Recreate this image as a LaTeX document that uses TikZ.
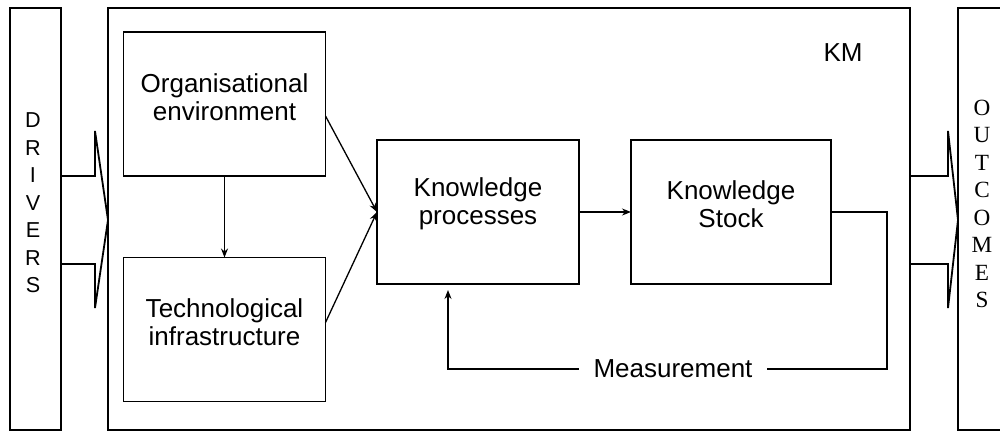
\documentclass[tikz,border=0pt]{standalone}
\usepackage{fontspec}
\setmainfont{Liberation Sans}
\newfontfamily\stackserif{Liberation Serif}
\usetikzlibrary{arrows.meta,calc}

\begin{document}
\begin{tikzpicture}[x=0.5pt,y=-0.5pt,
  line width=0.75pt,
  every node/.style={inner sep=0pt, outer sep=0pt},
  panel/.style={draw, rectangle, minimum height=211pt},
  procbox/.style={draw, rectangle, minimum width=101pt, minimum height=72pt},
  boxtext/.style={align=center, font=\fontsize{13}{14}\selectfont},
  link/.style={-{Stealth[length=4.5pt,width=3.5pt]}, line width=0.65pt},
  blockarrow/.style={line width=0.9pt, line join=miter},
]
\useasboundingbox (0,0) rectangle (1000,433);

% outer panels
\node[panel, minimum width=25.5pt] (drivers) at (35.5,219) {};
\node[panel, minimum width=401pt] (km) at (509,219) {};
\node[panel, minimum width=24pt] (outcomes) at (982,219) {};

\node[align=center, font=\fontsize{10.8}{13.75}\selectfont] (drvtxt) at (33,203)
  {D\\R\\I\\V\\E\\R\\S};
\node[align=center, font=\stackserif\fontsize{11.6}{13.75}\selectfont] (outtxt) at (982,204)
  {O\\U\\T\\C\\O\\M\\E\\S};
\node[font=\fontsize{13}{14}\selectfont] (kmlabel) at (843,53) {KM};

% block arrows into and out of the KM panel
\draw[blockarrow] (drivers.east |- 0,176) -- (95,176) -- (95,131)
  -- (km.west |- 0,220) -- (95,308) -- (95,264) -- (drivers.east |- 0,264);
\draw[blockarrow] (km.east |- 0,176) -- (948,176) -- (948,131)
  -- (outcomes.west |- 0,220) -- (948,308) -- (948,264) -- (km.east |- 0,264);

% inner boxes
\node[procbox, label={[boxtext, yshift=3.5pt]center:{Organisational\\environment}}] (org) at (224.5,104) {};
\node[procbox, label={[boxtext, yshift=3.5pt]center:{Technological\\infrastructure}}] (tech) at (224.5,329.5) {};
\node[procbox, label={[boxtext, yshift=4pt]center:{Knowledge\\processes}}] (kp) at (478,212) {};
\node[procbox, minimum width=100pt, label={[boxtext, yshift=4pt]center:{Knowledge\\Stock}}] (ks) at (731,212) {};

% connectors
\draw[link] (org.south) -- (tech.north);
\draw[link] ($(org.east)+(0,12)$) -- (kp.west);
\draw[link] ($(tech.east)+(0,-7)$) -- (kp.west);
\draw[link] (kp.east) -- (ks.west);

% measurement feedback loop
\node[font=\fontsize{13}{14}\selectfont, inner xsep=7.5pt, fill=white] (meas) at (673,369) {Measurement};
\coordinate (loopR) at (887,369);
\draw (ks.east) -- (ks.east -| loopR) -- (loopR) -- (meas.east);
\draw[link, shorten >=3pt] (meas.west) -| ($(kp.south west)+(71,0)$);

\end{tikzpicture}
\end{document}
